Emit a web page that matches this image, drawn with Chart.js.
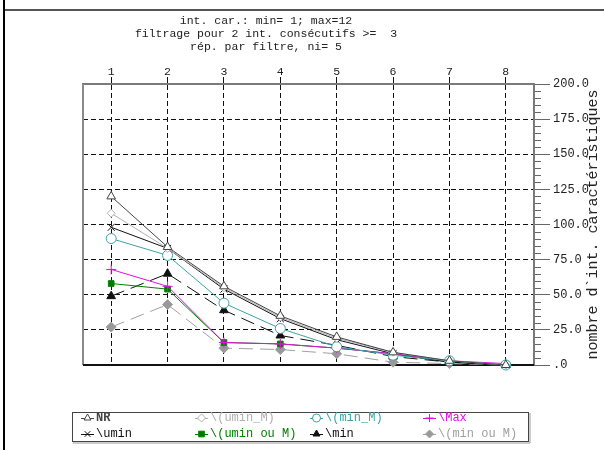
<!DOCTYPE html>
<html>
<head>
<meta charset="utf-8">
<script src="https://cdn.jsdelivr.net/npm/chart.js@4.4.0/dist/chart.umd.min.js"></script>
<style>
  html, body { margin: 0; padding: 0; background: #fff; }
  #cadre { position: relative; width: 604px; height: 450px; overflow: hidden; }
  #cadre canvas { position: absolute; left: 0; top: 0; }
  #bord_g { position: absolute; left: 3px; top: 0; width: 2px; height: 450px; background: #000; }
  #bord_h { position: absolute; left: 5px; top: 9px; width: 599px; height: 2px; background: #555; }
</style>
</head>
<body>
<div id="cadre">
  <canvas id="graphe" width="604" height="450"></canvas>
  <div id="bord_g"></div>
  <div id="bord_h"></div>
</div>
<script>
// categories (x) et valeurs
var categories = ["1", "2", "3", "4", "5", "6", "7", "8"];
var titre = [
    "int. car.: min= 1; max=12",
    "filtrage pour 2 int. consécutifs >=  3",
    "rép. par filtre, ni= 5"
];
var titre_y = "nombre d`int. caractéristiques";

var val_nr = [120, 84, 56, 35, 20, 9, 3, 0];
var val_umin_m = [108, 83, 55, 34, 19, 9, 3, 0];
var val_min_m = [90, 78, 44, 26, 13, 7, 3, 0];
var val_max = [68, 56, 16, 15, 12, 8, 3, 1];
var val_umin = [98, 83, 54, 33, 18, 8, 2, 0];
var val_umin_ou_m = [58, 54, 16, 15, 12, 8, 2, 0];
var val_min = [49, 65, 39, 21, 14, 6, 2, 0];
var val_min_ou_m = [27, 43, 12, 11, 8, 2, 1, 0];

var y_min = 0, y_max = 200, y_pas = 25, y_pas_mineur = 5;

var police = "'Liberation Mono', 'DejaVu Sans Mono', monospace";

function serie(label, data, couleur, style, rayon, fond, tirets, texte_couleur) {
    return {
        label: label,
        data: data,
        borderColor: couleur,
        backgroundColor: fond,
        borderWidth: 1,
        borderDash: tirets || [],
        pointStyle: style,
        pointRadius: rayon,
        pointBorderWidth: 1,
        pointBorderColor: couleur,
        pointBackgroundColor: fond,
        tension: 0,
        fill: false,
        clip: false,
        texte_couleur: texte_couleur || couleur
    };
}

// ordre = ordre de la legende (ligne 1 puis ligne 2)
var series = [
    serie("NR", val_nr, "#444", "triangle", 5, "#fff"),
    serie("\\(umin_M)", val_umin_m, "#b0b0b0", "rectRot", 4, "#fff"),
    serie("\\(min_M)", val_min_m, "#3aa3a6", "circle", 5, "#fff"),
    serie("\\Max", val_max, "#e010e0", "cross", 5, "#e010e0"),
    serie("\\umin", val_umin, "#111", "crossRot", 5, "#111"),
    serie("\\(umin ou M)", val_umin_ou_m, "#008000", "rect", 4, "#007800"),
    serie("\\min", val_min, "#111", "triangle", 5, "#111", [14, 7]),
    serie("\\(min ou M)", val_min_ou_m, "#a0a0a0", "rectRot", 5, "#999", [14, 7])
];

// cadre gauche/bas + graduations mineures de l'axe droit
var cadre_plugin = {
    id: "cadre_plugin",
    beforeDatasetsDraw: function (chart) {
        var ctx = chart.ctx;
        var a = chart.chartArea;
        var sy = chart.scales.y;
        ctx.save();
        ctx.lineWidth = 2;
        ctx.strokeStyle = "#8a8a8a";
        ctx.beginPath();
        ctx.moveTo(a.left, a.top);
        ctx.lineTo(a.left, a.bottom);
        ctx.stroke();
        ctx.strokeStyle = "#111";
        ctx.beginPath();
        ctx.moveTo(a.left, a.bottom);
        ctx.lineTo(a.right, a.bottom);
        ctx.stroke();
        ctx.lineWidth = 1;
        ctx.strokeStyle = "#666";
        for (var v = y_min; v <= y_max; v += y_pas_mineur) {
            if (v % y_pas === 0) continue;
            var py = Math.round(sy.getPixelForValue(v)) + 0.5;
            ctx.beginPath();
            ctx.moveTo(a.right + 1, py);
            ctx.lineTo(a.right + 7, py);
            ctx.stroke();
        }
        ctx.restore();
    },
    afterDraw: function (chart) {
        var ctx = chart.ctx;
        var a = chart.chartArea;
        ctx.save();
        // titres
        ctx.fillStyle = "#222";
        ctx.font = "11.5px " + police;
        ctx.textAlign = "center";
        ctx.textBaseline = "middle";
        for (var i = 0; i < titre.length; i++) {
            ctx.fillText(titre[i], 266, 21 + i * 13);
        }
        // titre axe y
        ctx.save();
        ctx.translate(593, (a.top + a.bottom) / 2);
        ctx.rotate(-Math.PI / 2);
        ctx.font = "15px " + police;
        ctx.fillText(titre_y, 0, 0);
        ctx.restore();

        // legende
        ctx.fillStyle = "#fff";
        ctx.fillRect(72, 412, 457, 30);
        ctx.strokeStyle = "#444";
        ctx.lineWidth = 1;
        ctx.strokeRect(72.5, 412.5, 456, 29);
        ctx.strokeStyle = "#999";
        ctx.beginPath();
        ctx.moveTo(530, 413);
        ctx.lineTo(530, 443);
        ctx.lineTo(73, 443);
        ctx.stroke();

        var cols = [81, 195, 310, 423];
        var rows = [418, 434];
        ctx.textAlign = "left";
        chart.data.datasets.forEach(function (ds, k) {
            var x0 = cols[k % 4];
            var y0 = rows[Math.floor(k / 4)];
            ctx.strokeStyle = ds.borderColor;
            ctx.lineWidth = 1;
            ctx.setLineDash([]);
            ctx.beginPath();
            ctx.moveTo(x0, y0 + 0.5);
            ctx.lineTo(x0 + 13, y0 + 0.5);
            ctx.stroke();
            ctx.fillStyle = ds.pointBackgroundColor;
            Chart.helpers.drawPoint(ctx, {
                pointStyle: ds.pointStyle,
                radius: Math.min(ds.pointRadius, 4),
                rotation: 0,
                borderWidth: 1
            }, x0 + 6.5, y0);
            ctx.fillStyle = ds.texte_couleur;
            ctx.font = (k === 0 ? "bold " : "") + "12px " + police;
            ctx.fillText(ds.label, x0 + 15, y0);
        });
        ctx.restore();
    }
};

var ctx_graphe = document.getElementById("graphe");
var graphe = new Chart(ctx_graphe, {
    type: "line",
    data: {
        labels: categories,
        datasets: series
    },
    plugins: [cadre_plugin],
    options: {
        responsive: false,
        animation: false,
        layout: {
            padding: { left: 83, right: 0, top: 0, bottom: 85 }
        },
        plugins: {
            legend: { display: false },
            title: { display: false },
            tooltip: { enabled: false }
        },
        scales: {
            x: {
                type: "category",
                position: "top",
                offset: true,
                grid: {
                    offset: false,
                    color: "#111",
                    lineWidth: 1,
                    tickLength: 7,
                    tickColor: "#111",
                    tickBorderDash: []
                },
                border: { display: true, color: "#7a7a7a", width: 2, dash: [5, 3] },
                ticks: {
                    padding: -2,
                    color: "#222",
                    font: { family: police, size: 11.5 }
                },
                afterFit: function (s) {
                    s.height = 84;
                }
            },
            y: {
                position: "right",
                min: y_min,
                max: y_max,
                grid: {
                    color: function (c) {
                        var v = c.tick ? c.tick.value : 0;
                        return (v === y_min || v === y_max) ? "rgba(0,0,0,0)" : "#111";
                    },
                    lineWidth: 1,
                    tickLength: 16,
                    tickColor: "#666",
                    tickBorderDash: []
                },
                border: { display: true, color: "#7a7a7a", width: 2, dash: [5, 3] },
                ticks: {
                    stepSize: y_pas,
                    padding: 3,
                    color: "#222",
                    font: { family: police, size: 12 },
                    callback: function (v) {
                        return v === 0 ? ".0" : v.toFixed(1);
                    }
                },
                afterFit: function (s) {
                    s.width = 70;
                }
            }
        }
    }
});
</script>
</body>
</html>
